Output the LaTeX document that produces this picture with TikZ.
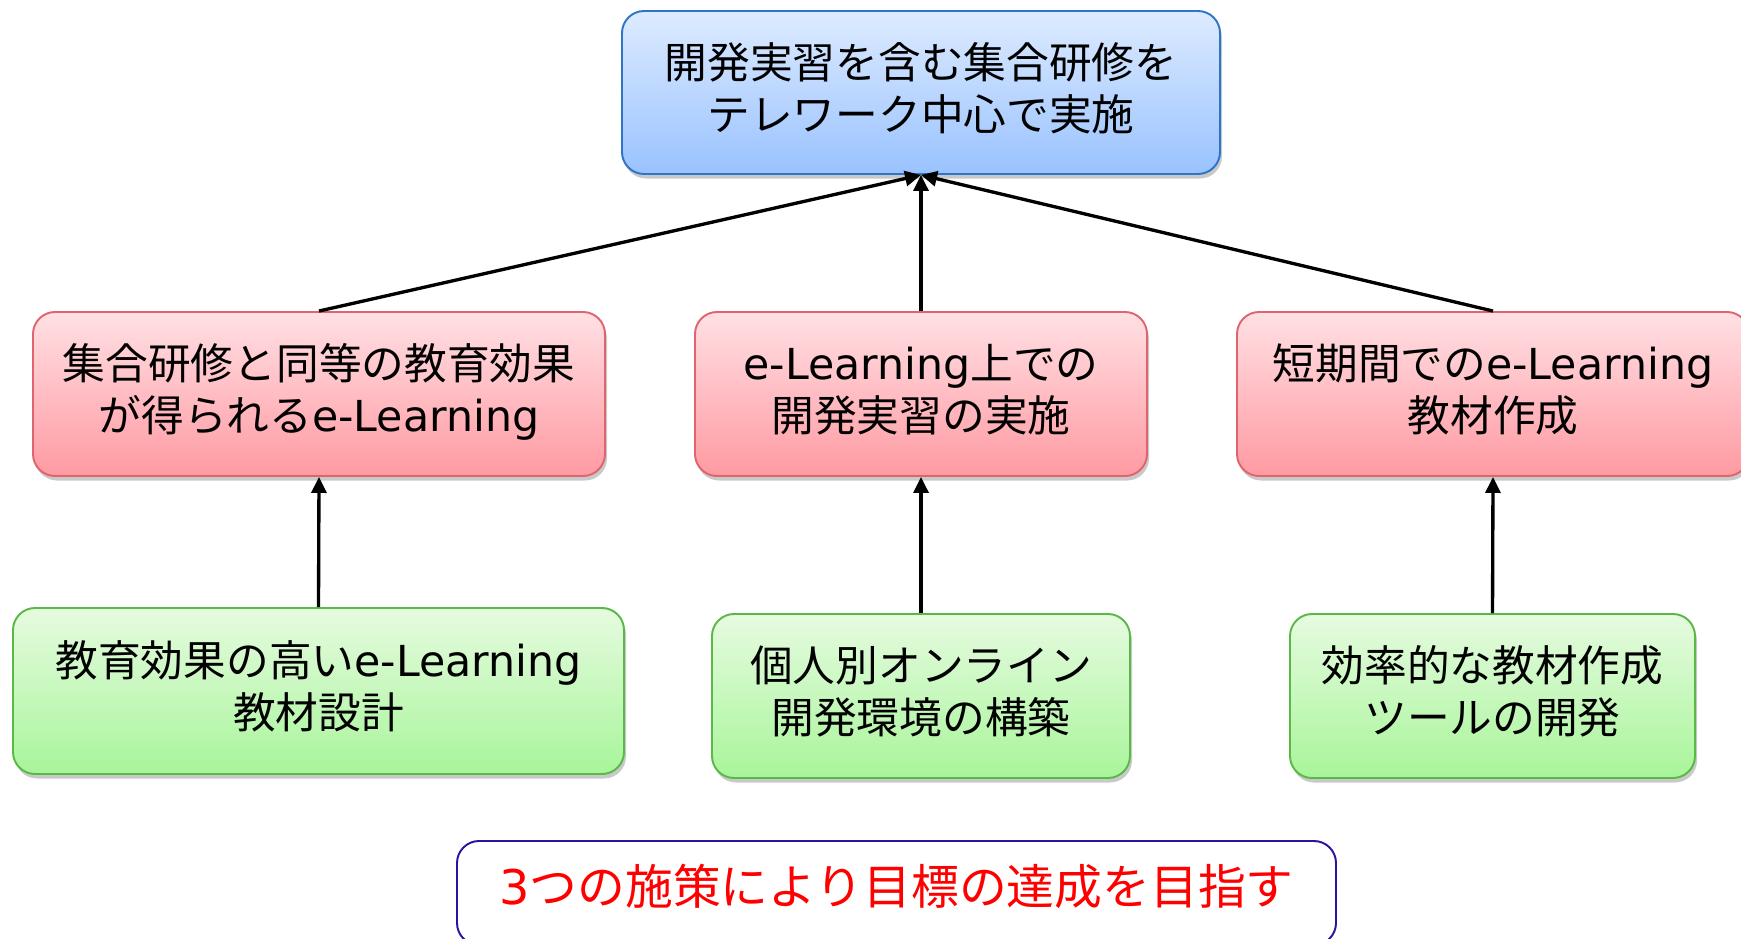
\documentclass[tikz,border=0pt]{standalone}
\usepackage{fontspec}
\setmainfont{DejaVu Sans}
\newfontfamily\cjk{Noto Sans CJK JP}
\usetikzlibrary{shadows,arrows.meta}
\definecolor{blueA}{HTML}{DDEBFF}
\definecolor{blueB}{HTML}{99C2FF}
\definecolor{blueE}{HTML}{2E75C6}
\definecolor{redA}{HTML}{FFE0E4}
\definecolor{redB}{HTML}{FF9AA2}
\definecolor{redE}{HTML}{E0646E}
\definecolor{greenA}{HTML}{E6FBE0}
\definecolor{greenB}{HTML}{A8F59A}
\definecolor{greenE}{HTML}{5AB946}
\definecolor{goalE}{HTML}{3010A0}
\tikzset{
  box/.style={rounded corners=0.44cm, line width=1.1pt, align=center, inner sep=0pt,
    font=\fontsize{24.3}{29.5}\selectfont, text depth=0.25cm,
    drop shadow={shadow xshift=0.04cm, shadow yshift=-0.09cm, opacity=0.3, fill=black!70}},
  goalbox/.style={box, top color=blueA, bottom color=blueB, draw=blueE},
  subbox/.style={box, top color=redA, bottom color=redB, draw=redE},
  leafbox/.style={box, top color=greenA, bottom color=greenB, draw=greenE},
  conn/.style={line width=1.9pt, -{Triangle[length=0.32cm,width=0.30cm]}},
}
\begin{document}
\begin{tikzpicture}
\useasboundingbox (0,0) rectangle (34.82,-18.76);
\node[goalbox, minimum width=11.96cm, minimum height=3.26cm] (top) at (18.42,-1.85)
  {\cjk 開発実習を含む集合研修を\\\cjk テレワーク中心で実施};
\node[subbox, minimum width=11.44cm, minimum height=3.28cm] (r1) at (6.38,-7.88)
  {\cjk 集合研修と同等の教育効果\\{\cjk が得られる}e-Learning};
\node[subbox, minimum width=9.04cm, minimum height=3.28cm] (r2) at (18.42,-7.88)
  {e-Learning{\cjk 上での}\\\cjk 開発実習の実施};
\node[subbox, minimum width=10.24cm, minimum height=3.28cm] (r3) at (29.86,-7.88)
  {{\cjk 短期間での}e-Learning\\\cjk 教材作成};
\node[leafbox, minimum width=12.22cm, minimum height=3.32cm] (g1) at (6.37,-13.82)
  {{\cjk 教育効果の高い}e-Learning\\\cjk 教材設計};
\node[leafbox, minimum width=8.36cm, minimum height=3.28cm] (g2) at (18.42,-13.92)
  {\cjk 個人別オンライン\\\cjk 開発環境の構築};
\node[leafbox, minimum width=8.10cm, minimum height=3.28cm] (g3) at (29.85,-13.92)
  {\cjk 効率的な教材作成\\\cjk ツールの開発};
\node[draw=goalE, fill=white, line width=1.1pt, rounded corners=0.44cm, minimum width=17.58cm, minimum height=2.08cm, inner sep=0pt] (goal) at (17.93,-17.86) {};
\node[text=red, font=\fontsize{27.2}{32}\selectfont, anchor=center] (goaltext) at (17.93,-17.72)
  {3{\cjk つの施策により目標の達成を目指す}};
\draw[conn] (r1.north) -- (top.south);
\draw[conn] (r2.north) -- (top.south);
\draw[conn] (r3.north) -- (top.south);
\draw[conn] (g1.north) -- (r1.south);
\draw[conn] (g2.north) -- (r2.south);
\draw[conn] (g3.north) -- (r3.south);
\end{tikzpicture}
\end{document}
